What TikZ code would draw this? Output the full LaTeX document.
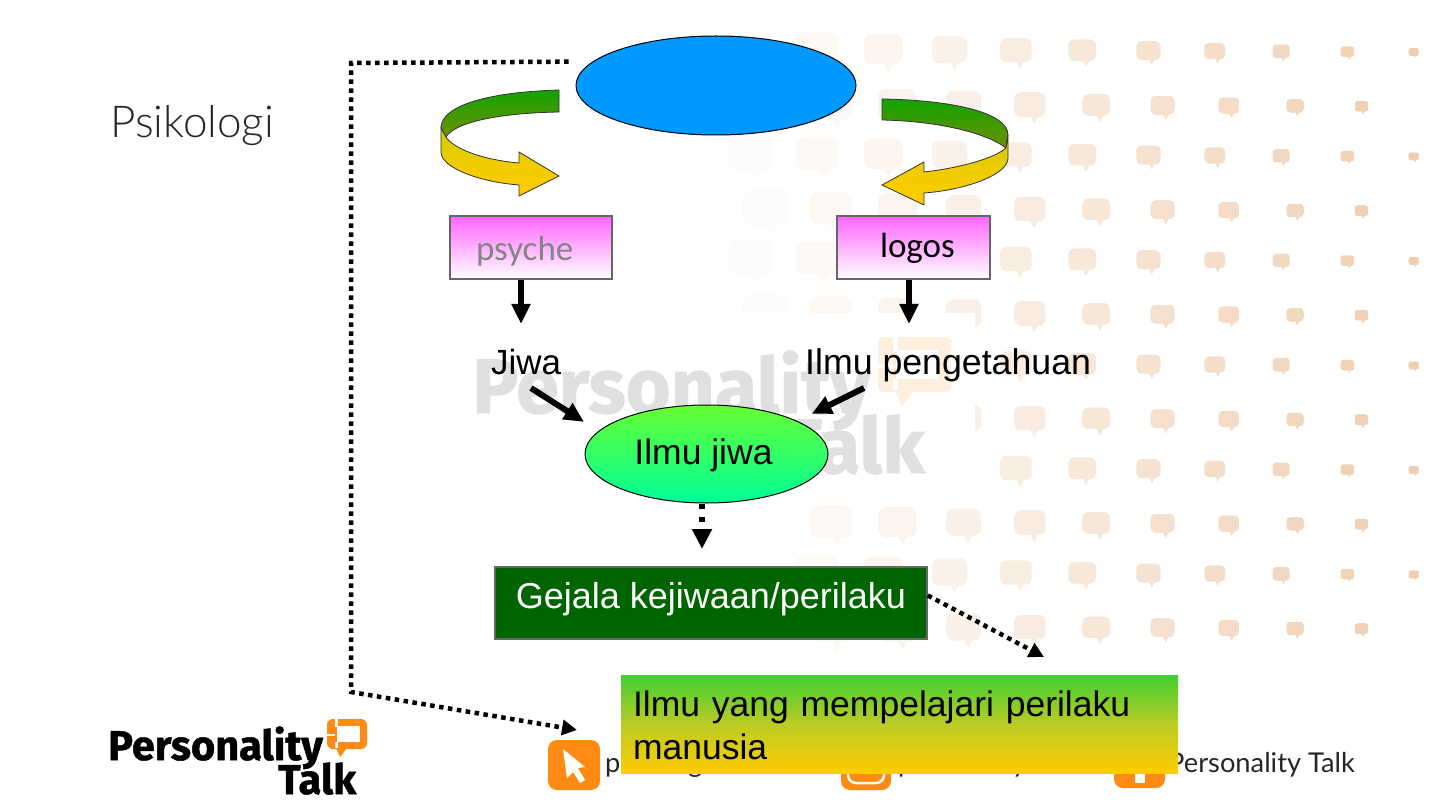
\documentclass[tikz,border=0pt]{standalone}
\usepackage{fontspec}
\usetikzlibrary{arrows.meta,calc,shapes.geometric}
\setmainfont{Liberation Sans}
\newfontfamily\slidefont{Carlito}
\newfontfamily\footfont{Lato}
\newfontfamily\titlefont{Lato Light}
\newfontfamily\logofont[BoldFeatures={FakeBold=1.2}]{Fira Sans}
\definecolor{bubblepeach}{HTML}{EFCDAF}
\definecolor{logoorange}{HTML}{FF8A14}
\def\bubblerow#1#2#3{%
    \foreach \col in {0,...,#3} {
        \pgfmathsetmacro\bx{#2+66.3*\col}
        \pgfmathsetmacro\bw{42-(\bx-817)*0.0536}
        \pgfmathsetmacro\bh{0.78*\bw}
        \pgfmathsetmacro\by{#1+(\bx-817)*0.005}
        \pgfmathsetmacro\ba{100*(max(\bx-680,0)/734)^1.25}
        \fill[bubblepeach!\ba!white, rounded corners=0.2*\bw pt]
            (\bx-\bw/2,\by-\bh/2) rectangle (\bx+\bw/2,\by+\bh/2);
        \fill[bubblepeach!\ba!white]
            (\bx+0.02*\bw,\by+\bh/2-1) -- (\bx+0.26*\bw,\by+\bh/2-1) -- (\bx+0.14*\bw,\by+0.78*\bh) -- cycle;
    }
}
\tikzset{
    logobubble/.pic={
        \fill[pic actions, rounded corners=6pt] (0,0) rectangle (40,30);
        \fill[pic actions] (9,29) -- (20,29) -- (13,38) -- cycle;
        \fill[white] (10,7) rectangle (33,23);
        \fill[white] (8,0) rectangle (11,8);
        \fill[white] (0,15) rectangle (8,17);
        \fill[white] (8,23) rectangle (11,29);
    }
}

\begin{document}
\begin{tikzpicture}[x=1pt,y=-1pt,inner sep=0pt]
    \tikzstyle{slide text}=[anchor=base west,font=\fontsize{35pt}{43pt}\selectfont]
    \tikzstyle{pink box}=[rectangle,draw=black!60,line width=2pt,top color=magenta!60!white,bottom color=white,
        text height=42pt,text depth=21pt,align=left,font=\slidefont\fontsize{35pt}{43pt}\selectfont]
    \tikzstyle{solid arrow}=[line width=6pt,-{Triangle[length=20pt,width=18pt]}]
    \tikzstyle{dash arrow}=[line width=5.5pt,dash pattern=on 5pt off 8pt,-{Triangle[length=20pt,width=19pt]}]
    \tikzstyle{dot arrow}=[line width=4.5pt,dash pattern=on 4.5pt off 4.5pt,-{Triangle[length=15pt,width=15pt]}]
    \tikzstyle{foot text}=[anchor=base west,text=black!85,font=\footfont\fontsize{27.3pt}{30pt}\selectfont]
    \tikzstyle{logo text}=[anchor=base west,font=\logofont\bfseries\fontsize{41.5pt}{41pt}\selectfont]
    \tikzstyle{mark text}=[anchor=base west,text=black!12,font=\logofont\bfseries\fontsize{77pt}{77pt}\selectfont]
    \tikzstyle{ribbon}=[draw=black!80,line width=0.8pt,shading=axis,shading angle=0]

    \useasboundingbox (0,0) rectangle (1440,810);

    % Speech bubbles behind the slide
    \foreach \y in {49,153.5,258,362.5,467,571.5}
        \bubblerow{\y}{684.4}{11}
    \foreach \y in {103.5,208,312.5,417,521.5,626}
        \bubblerow{\y}{698.4}{10}
    \fill[white] (470,313) rectangle (975,495);
    \fill[white] (470,495) rectangle (790,660);

    % Watermark
    \pic[logoorange!14!white,scale=1.83] at (878,337) {logobubble={}};
    \node[mark text] (mark1) at (472,413) {Personality};
    \node[mark text] (mark2) at (780,473) {Talk};

    % Footer
    \node[logo text] (logo1) at (108,760) {Personality};
    \node[logo text] (logo2) at (278,794) {Talk};
    \pic[logoorange] at (327,719) {logobubble={}};
    \fill[logoorange,rounded corners=9pt] (548,740) rectangle (600,790);
    \fill[white] (563,749) -- (585,767) -- (578,768) -- (585,780) -- (580,783) -- (573,772) -- (567,778) -- cycle;
    \fill[logoorange,rounded corners=9pt] (841,740) rectangle (891,790);
    \draw[white,line width=2.5pt,rounded corners=8pt] (848,745) rectangle (884,783);
    \draw[white,line width=2.5pt] (866,764) circle (9);
    \fill[logoorange,rounded corners=9pt] (1114,740) rectangle (1165,788);
    \fill[white] (1135,760) rectangle (1145,783);
    \node[foot text] (foot1) at (605,772) {p};
    \node[foot text] (foot2) at (688,772) {g};
    \node[foot text] (foot3) at (898,772) {p};
    \node[foot text] (foot4) at (1012,772) {y};
    \node[foot text] (foot5) at (1168,772) {Personality Talk};

    % Title
    \node[anchor=base west,text=black!85,font=\titlefont\fontsize{44pt}{50pt}\selectfont] (title) at (110,138) {Psikologi};

    % Ovals and boxes
    \node[ellipse,draw=black,line width=1pt,fill={rgb,255:red,0;green,153;blue,255},
        minimum width=280pt,minimum height=99pt] (psikologi) at (716,85.5) {};
    \node[pink box,minimum width=162pt,text width=162pt,text height=45pt,text depth=18pt] (psyche) at (531,247.5) {\hspace*{26pt}\textcolor{black!48}{psyche}};
    \node[pink box,minimum width=153pt,text width=153pt] (logos) at (913.5,247.5) {\hspace*{43pt}logos};
    \node[slide text] (jiwa) at (491,374) {Jiwa};
    \node[slide text,font=\fontsize{35.7pt}{43pt}\selectfont] (ilmupengetahuan) at (805,374) {Ilmu pengetahuan};
    \node[ellipse,draw=black,line width=1pt,top color={rgb,255:red,102;green,255;blue,51},bottom color={rgb,255:red,0;green,255;blue,153},
        minimum width=243pt,minimum height=98pt,text height=30pt,text depth=10pt,font=\fontsize{35.5pt}{43pt}\selectfont] (ilmujiwa) at (706.5,454) {Ilmu jiwa\hspace*{6pt}};
    \node[rectangle,draw=black!60,line width=1.5pt,fill={rgb,255:red,0;green,100;blue,0},text=white,
        minimum width=432pt,text height=41pt,text depth=31pt,font=\fontsize{36pt}{43pt}\selectfont] (gejala) at (711,603) {Gejala kejiwaan/perilaku};
    \node[rectangle,top color={rgb,255:red,62;green,207;blue,50},bottom color={rgb,255:red,255;green,204;blue,0},
        middle color={rgb,255:red,188;green,204;blue,36},
        minimum width=557pt,minimum height=98pt,text width=533pt,align=left,
        font=\fontsize{35.5pt}{43pt}\selectfont] (perilaku) at (899.5,724) {\rule{0pt}{29pt}Ilmu yang mempelajari perilaku\\manusia};

    % Curved arrows
    \shade[ribbon,top color={rgb,255:red,16;green,163;blue,0},bottom color={rgb,255:red,112;green,144;blue,0}]
        (559,90) .. controls (490,92) and (441,105) .. (441,128) -- (446,137)
        .. controls (455,122) and (500,113) .. (559,112) -- cycle;
    \shade[ribbon,top color={rgb,255:red,200;green,204;blue,0},bottom color={rgb,255:red,255;green,204;blue,0},
        middle color={rgb,255:red,240;green,204;blue,0}]
        (441,128) -- (441,152) .. controls (441,168) and (480,182) .. (519,185) -- (519,196) -- (559,176)
        -- (519,152) -- (519,163) .. controls (485,160) and (455,150) .. (446,137) -- cycle;
    \shade[ribbon,top color={rgb,255:red,16;green,163;blue,0},bottom color={rgb,255:red,112;green,144;blue,0}]
        (882,99) .. controls (950,100) and (1008,112) .. (1008,135) -- (1006,148)
        .. controls (985,132) and (935,121) .. (882,120) -- cycle;
    \shade[ribbon,top color={rgb,255:red,200;green,204;blue,0},bottom color={rgb,255:red,255;green,204;blue,0},
        middle color={rgb,255:red,240;green,204;blue,0}]
        (1006,148) -- (1008,135) -- (1008,158) .. controls (1008,175) and (965,190) .. (924,193) -- (924,205) -- (882,185)
        -- (924,162) -- (924,172) .. controls (960,168) and (995,158) .. (1006,148) -- cycle;

    % Free ends of the connectors
    \coordinate (jiwa-in) at (521,324);
    \coordinate (ilmu-in) at (909,324);
    \coordinate (jiwa-out) at (531,388);
    \coordinate (ilmu-out) at (864,388);
    \coordinate (gejala-in) at (702,549);
    \coordinate (perilaku-in) at (1044,657);
    \coordinate (bend1) at (351,63);
    \coordinate (bend2) at (351,692);
    \coordinate (cursor-in) at (577,730);

    % Connect the boxes
    \draw[solid arrow] (psyche.south -| jiwa-in) -- (jiwa-in);
    \draw[solid arrow] (logos.south -| ilmu-in) -- (ilmu-in);
    \draw[solid arrow,shorten >=17pt] (jiwa-out) -- (ilmujiwa.168.5);
    \draw[solid arrow,shorten >=16pt] (ilmu-out) -- (ilmujiwa.20.1);
    \draw[dash arrow] (ilmujiwa.south -| gejala-in) -- (gejala-in);
    \draw[dot arrow] (gejala.2.9) -- (perilaku-in);
    \draw[dot arrow,shorten <=24pt] (psikologi.169.8) -- (bend1) -- (bend2) -- (cursor-in);
\end{tikzpicture}
\end{document}
